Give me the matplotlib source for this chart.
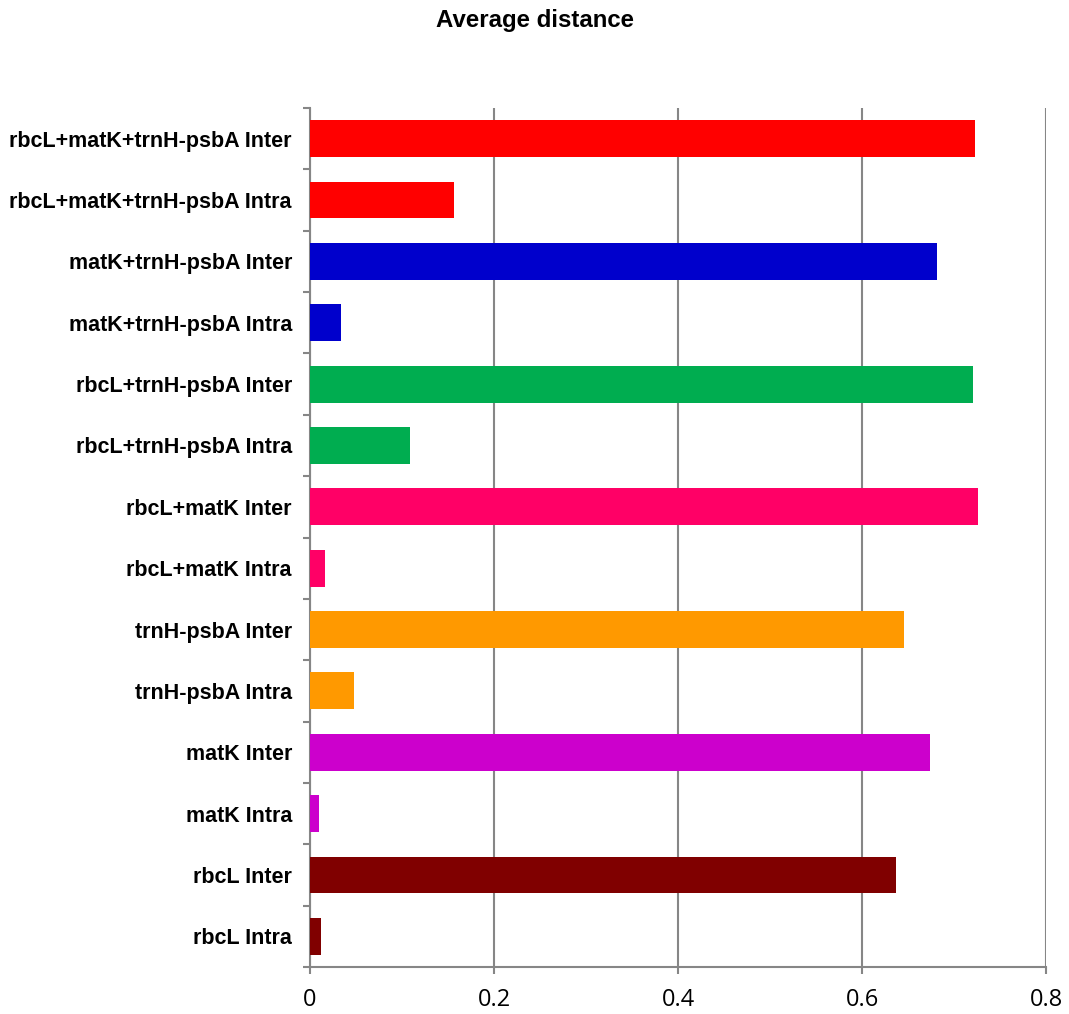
import matplotlib
matplotlib.use("Agg")
import matplotlib.pyplot as plt
import numpy as np

categories = [
    "rbcL Intra", "rbcL Inter",
    "matK Intra", "matK Inter",
    "trnH-psbA Intra", "trnH-psbA Inter",
    "rbcL+matK Intra", "rbcL+matK Inter",
    "rbcL+trnH-psbA Intra", "rbcL+trnH-psbA Inter",
    "matK+trnH-psbA Intra", "matK+trnH-psbA Inter",
    "rbcL+matK+trnH-psbA Intra", "rbcL+matK+trnH-psbA Inter",
]
values = [0.012, 0.6365, 0.010, 0.674, 0.048, 0.6455, 0.0165, 0.7265,
          0.109, 0.721, 0.034, 0.681, 0.157, 0.723]
colors = ["#800000", "#800000", "#CC00CC", "#CC00CC", "#FF9900", "#FF9900",
          "#FF0066", "#FF0066", "#00AD50", "#00AD50", "#0000CC", "#0000CC",
          "#FF0000", "#FF0000"]
xticks = [0, 0.2, 0.4, 0.6, 0.8]
xticklabels = ["0", "0.2", "0.4", "0.6", "0.8"]
title = "Average distance"

W, H = 1069, 1014
fig = plt.figure(figsize=(W / 100, H / 100), dpi=100)
ax = fig.add_axes([310 / W, 1 - 967 / H, (1046 - 310) / W, (967 - 108) / H])

y = np.arange(len(categories))
ax.barh(y, values, height=0.6, color=colors, zorder=3)
ax.set_xlim(0, 0.8)
ax.set_ylim(-0.5, len(categories) - 0.5)

grid_c = "#868686"
ax.set_xticks(xticks)
ax.set_xticklabels(xticklabels, fontsize=17, family="Open Sans")
ax.xaxis.grid(True, color=grid_c, linewidth=1.5, zorder=0)
ax.tick_params(axis="x", direction="out", length=5, width=1.5, color=grid_c, pad=10)

ax.set_yticks(y)
ax.set_yticklabels(categories, fontsize=15.5, fontweight="bold", family="Liberation Sans")
ax.set_yticks(np.arange(-0.5, len(categories), 1.0), minor=True)
ax.tick_params(axis="y", which="major", length=0, pad=13)
ax.tick_params(axis="y", which="minor", direction="out", length=5, width=1.5, color=grid_c)

for s in ["top", "right"]:
    ax.spines[s].set_visible(False)
for s in ["left", "bottom"]:
    ax.spines[s].set_color(grid_c)
    ax.spines[s].set_linewidth(1.5)

fig.text(535 / W, 1 - 21 / H, title, ha="center", va="center",
         fontsize=17.3, fontweight="bold", family="Liberation Sans")

fig.savefig("out.png", dpi=100, facecolor="white")
